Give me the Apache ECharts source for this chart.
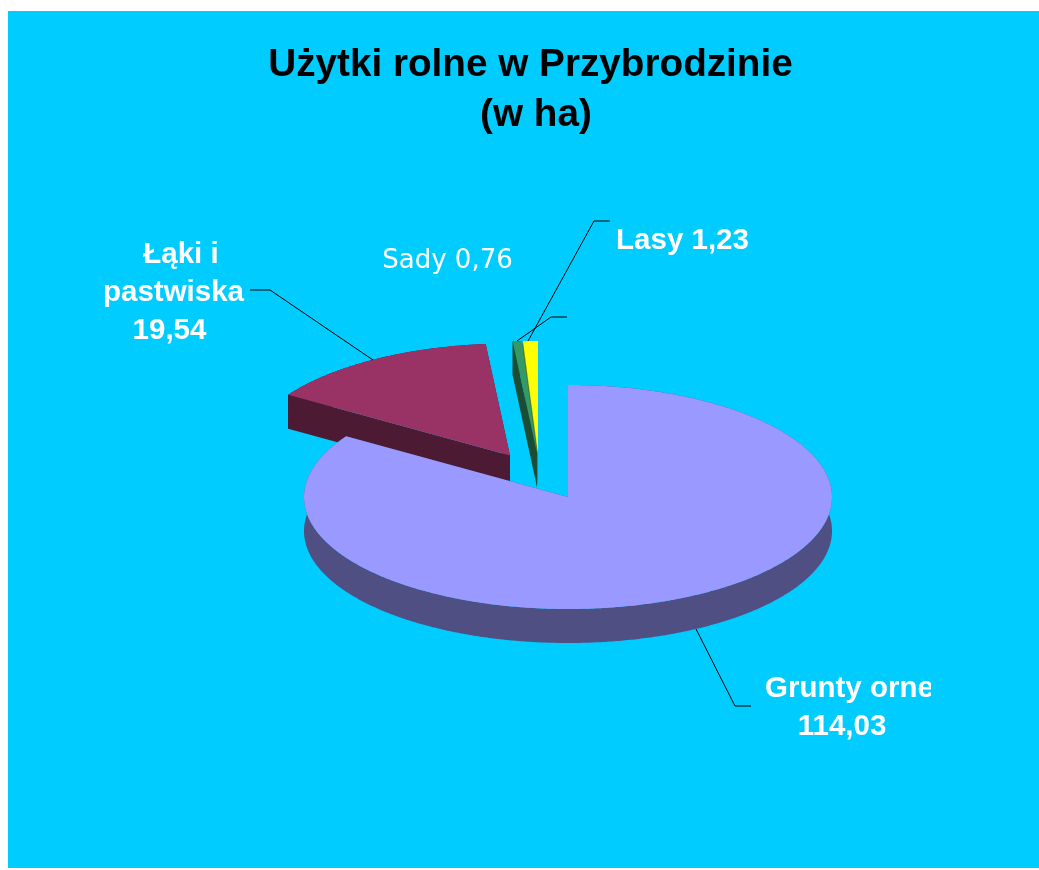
<!DOCTYPE html>
<html>
<head>
<meta charset="utf-8">
<title>Użytki rolne w Przybrodzinie</title>
<script src="https://cdn.jsdelivr.net/npm/echarts@6/dist/echarts.min.js"></script>
<style>
  html, body { margin: 0; padding: 0; background: #fff; }
  #chart { width: 1039px; height: 870px; }
</style>
</head>
<body>
<div id="chart"></div>
<script>
// dane
var categories = ['Grunty orne', 'Łąki i pastwiska', 'Sady', 'Lasy'];
var values = [114.03, 19.54, 0.76, 1.23];
var titleLines = ['Użytki rolne w Przybrodzinie', '(w ha)'];

// kolory: góra wycinka i ścianka
var topColors = ['#9999ff', '#993366', '#339966', '#ffff00'];
var sideColors = ['#4f4f84', '#4d1a33', '#1a4d33', '#808000'];

// kolejność rysowania (duży wycinek na wierzchu)
var drawOrder = [3, 2, 1, 0];

// elipsa "3D"
var cx = 568, cy = 497, rx = 264, ry = 112, depth = 34;
// przesunięcie wycinków (eksplozja)
var offsets = [[0, 0], [-58, -41.5], [-31, -44], [-30, -44]];

// odnośniki
var leaders = [
  [[696, 629], [735, 706], [751, 706]],
  [[373, 360], [270, 290], [250, 290]],
  [[517, 341], [551, 317], [567, 317]],
  [[528, 341], [594, 221], [610, 221]]
];

// etykiety, linia po linii
var labels = [
  [{ text: categories[0], x: 765, y: 689, align: 'left', clipRight: 931 },
   { text: fmt(values[0]), x: 842, y: 727 }],
  [{ text: 'Łąki i', x: 181, y: 255 },
   { text: 'pastwiska', x: 173.5, y: 293 },
   { text: fmt(values[1]), x: 169.5, y: 331 }],
  [{ text: categories[2] + ' ' + fmt(values[2]), x: 447.5, y: 261, thin: true }],
  [{ text: categories[3] + ' ' + fmt(values[3]), x: 682.5, y: 241 }]
];

function fmt(v) {
  return v.toFixed(2).replace('.', ',');
}

// kąty liczone z wartości, od godziny 12 zgodnie z zegarem
var total = values.reduce(function (a, b) { return a + b; }, 0);
var slices = [];
var acc = 0;
values.forEach(function (v, i) {
  var start = acc / total * Math.PI * 2;
  acc += v;
  slices.push({ start: start, end: acc / total * Math.PI * 2, ox: offsets[i][0], oy: offsets[i][1] });
});

function onRim(s, a, dy) {
  return [cx + s.ox + rx * Math.sin(a), cy + s.oy - ry * Math.cos(a) + (dy || 0)];
}

function arcPoints(s, dy) {
  var pts = [];
  var steps = Math.max(2, Math.ceil((s.end - s.start) / (Math.PI / 360)));
  for (var k = 0; k <= steps; k++) {
    pts.push(onRim(s, s.start + (s.end - s.start) * k / steps, dy));
  }
  return pts;
}

function renderSlice(params, api) {
  var i = api.value(0);
  var s = slices[i];
  var apex = [cx + s.ox, cy + s.oy];
  var apexLow = [apex[0], apex[1] + depth];
  var side = { fill: sideColors[i] };
  var top = arcPoints(s, 0);
  var low = arcPoints(s, depth);

  function face(points, style) {
    return { type: 'polygon', shape: { points: points }, style: style };
  }
  return {
    type: 'group',
    children: [
      face([apex, apexLow, low[0], top[0]], side),
      face([apex, apexLow, low[low.length - 1], top[top.length - 1]], side),
      face(top.concat(low.slice().reverse()), side),
      face([apex].concat(top), { fill: topColors[i] })
    ]
  };
}

function renderLabel(params, api) {
  var i = api.value(0);
  var children = [{
    type: 'polyline',
    shape: { points: leaders[i] },
    style: { stroke: '#000', lineWidth: 1, fill: null }
  }];
  labels[i].forEach(function (l) {
    var el = {
      type: 'text',
      style: {
        text: l.text,
        x: l.x,
        y: l.y,
        align: l.align || 'center',
        verticalAlign: 'middle',
        fill: '#fff',
        fontFamily: l.thin ? 'DejaVu Sans' : 'Liberation Sans',
        fontWeight: l.thin ? 'normal' : 'bold',
        fontSize: l.thin ? 26 : 29.5
      }
    };
    if (l.clipRight) {
      el.clipPath = { type: 'rect', shape: { x: l.x - 5, y: l.y - 40, width: l.clipRight - l.x + 5, height: 80 } };
    }
    children.push(el);
  });
  return { type: 'group', children: children };
}

var myChart = echarts.init(document.getElementById('chart'));

var titleStyle = { color: '#000', fontFamily: 'Liberation Sans', fontWeight: 'bold', fontSize: 38.7 };

var option = {
  animation: false,
  title: [
    { text: titleLines[0], left: 525.5, top: 41, textAlign: 'center', textStyle: titleStyle },
    { text: titleLines[1], left: 531, top: 91, textAlign: 'center', textStyle: titleStyle }
  ],
  graphic: [{
    type: 'rect',
    z: -10,
    silent: true,
    shape: { x: 8, y: 11, width: 1031, height: 857 },
    style: { fill: '#00ccff' }
  }],
  series: [
    {
      type: 'custom',
      coordinateSystem: 'none',
      renderItem: renderSlice,
      data: drawOrder.map(function (i) { return [i]; }),
      z: 2
    },
    {
      type: 'custom',
      coordinateSystem: 'none',
      renderItem: renderLabel,
      data: drawOrder.map(function (i) { return [i]; }),
      z: 3
    }
  ]
};

myChart.setOption(option);
</script>
</body>
</html>
